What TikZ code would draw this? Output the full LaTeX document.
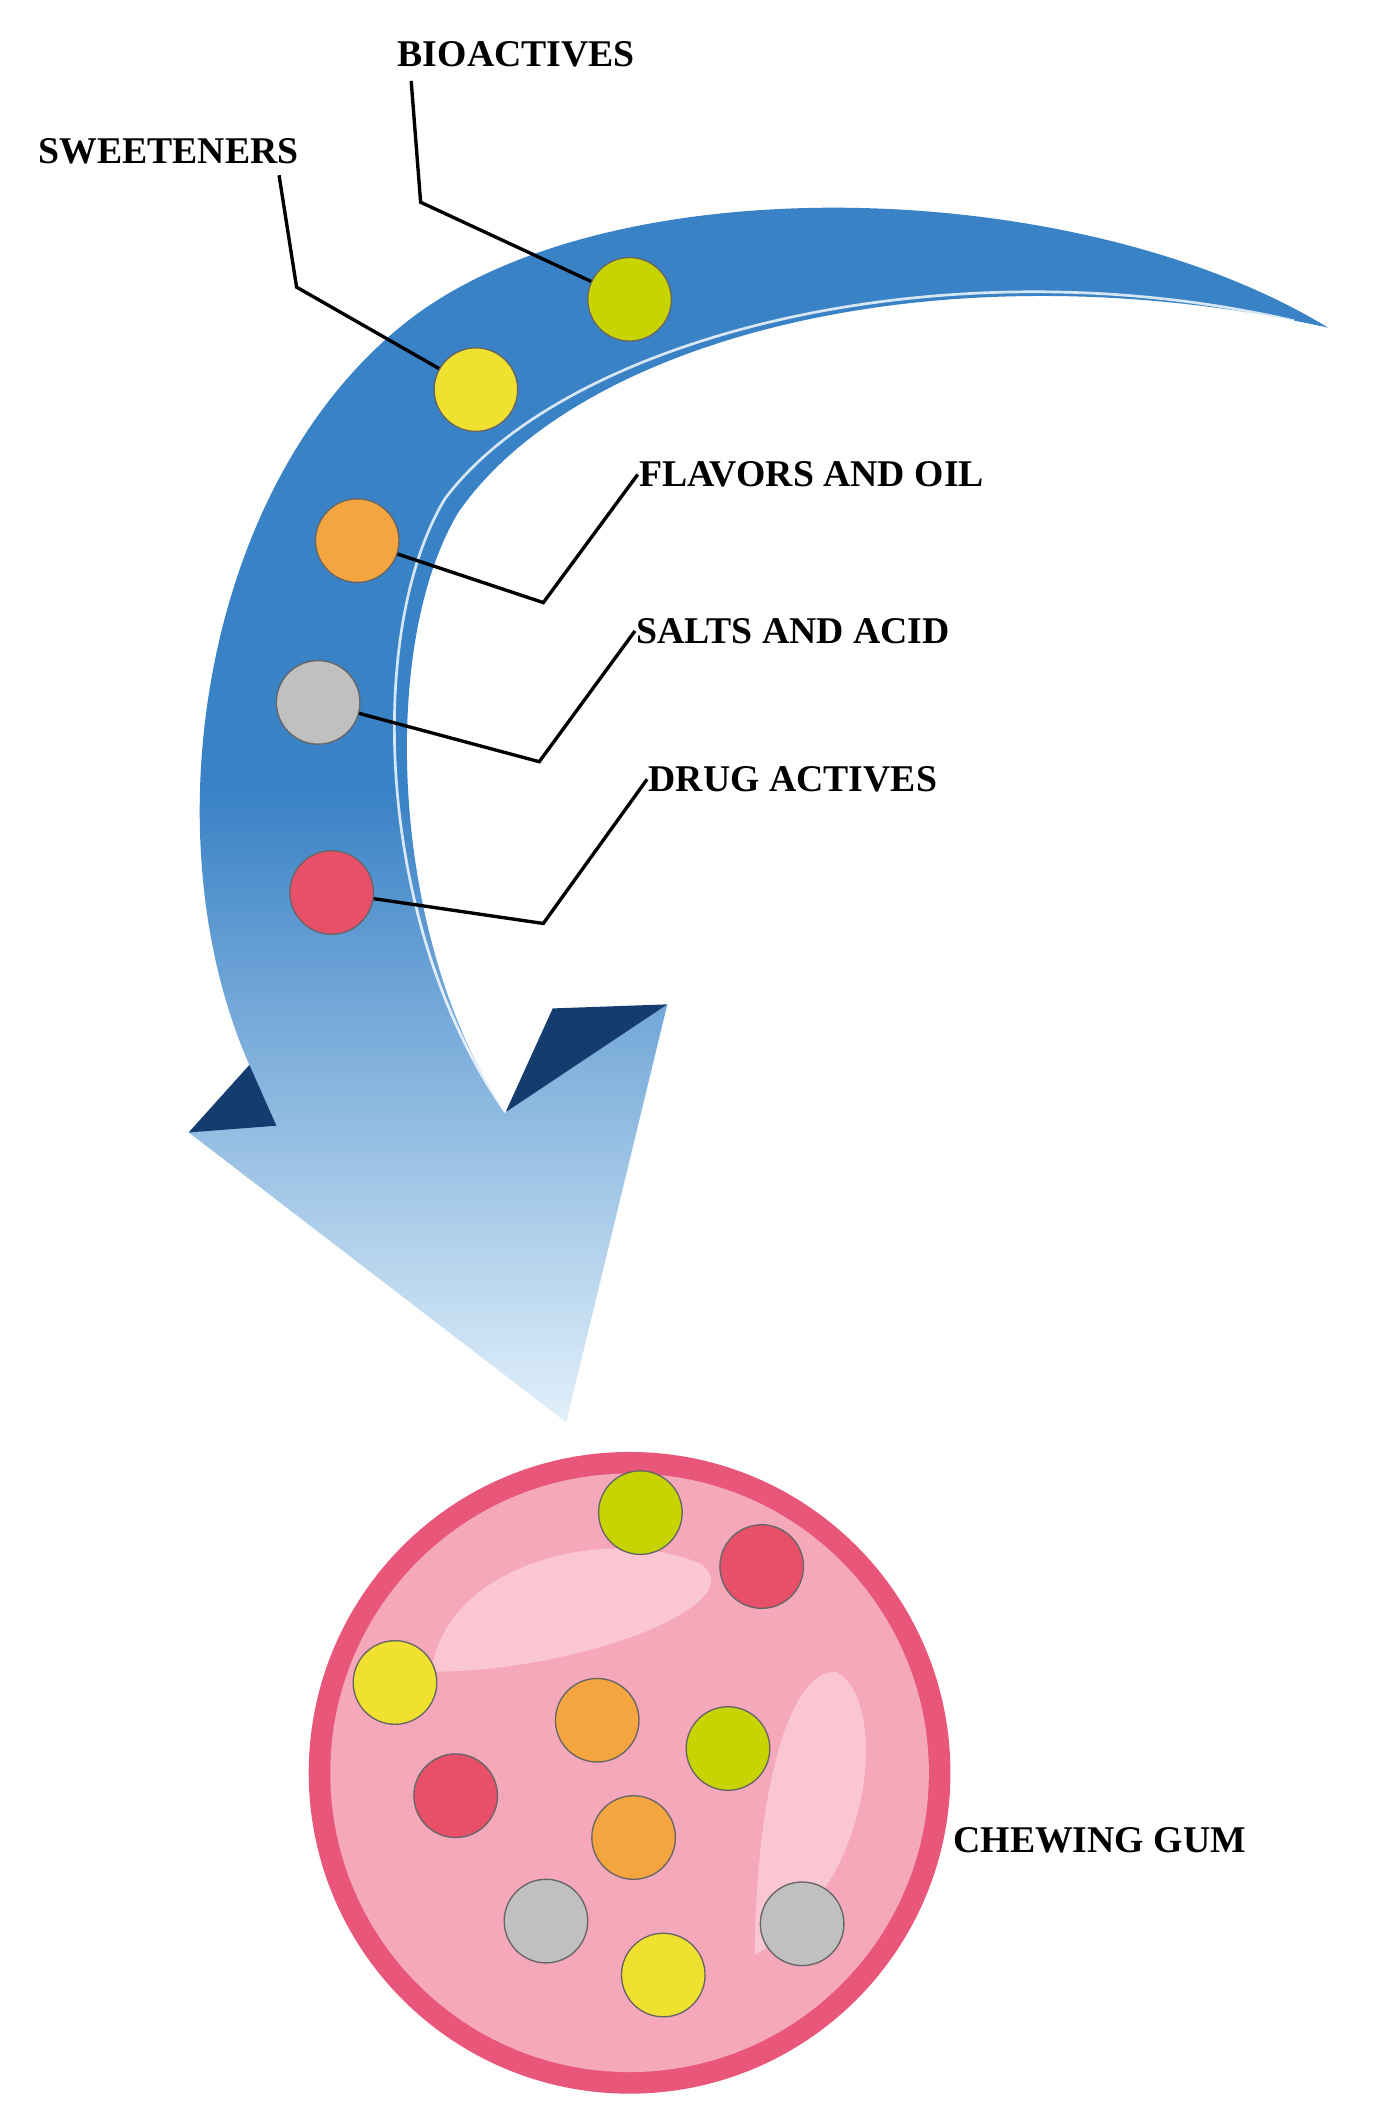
\documentclass[tikz,border=0pt]{standalone}
\usepackage{fontspec}
\setmainfont{Liberation Serif}
\definecolor{clime}{RGB}{200,212,0}
\definecolor{cyel}{RGB}{240,224,48}
\definecolor{cora}{RGB}{245,165,64}
\definecolor{cgray}{RGB}{192,192,192}
\definecolor{cpink}{RGB}{232,80,106}
\definecolor{gring}{RGB}{232,87,122}
\definecolor{gfill}{RGB}{246,168,187}
\definecolor{ablue}{RGB}{58,130,198}
\definecolor{adark}{RGB}{20,60,110}
\definecolor{alight}{RGB}{225,240,250}
\begin{document}
\begin{tikzpicture}[x=1pt,y=-1pt,
  dot/.style={circle,minimum size=62pt,inner sep=0pt,draw=black!60,line width=1pt},
  lbl/.style={font=\fontsize{28}{32}\selectfont\bfseries,inner sep=1pt},
  lead/.style={line width=2.5pt,black}]
\useasboundingbox (0,0) rectangle (1024,1577);
\fill[white] (0,0) rectangle (1024,1577);
% arrow
\shade[top color=ablue, bottom color=alight, middle color=ablue]
 (985,243) .. controls (800,130) and (450,120) .. (300,240)
 .. controls (150,360) and (110,620) .. (185,790) -- (140,840) -- (420,1055) -- (495,745) -- (375,825)
 .. controls (290,700) and (280,480) .. (340,380)
 .. controls (430,250) and (700,180) .. (985,243) -- cycle;
\fill[adark] (375,825) -- (495,745) -- (410,748) -- cycle;
\fill[adark] (185,790) -- (140,840) -- (205,835) -- cycle;
\draw[white,line width=2pt,opacity=0.8] (960,238) .. controls (700,178) and (420,250) .. (330,370) .. controls (270,470) and (280,690) .. (375,825);
% dots on arrow
\node[dot,fill=clime] (bio) at (467,222) {};
\node[dot,fill=cyel] (swe) at (353,289) {};
\node[dot,fill=cora] (fla) at (265,401) {};
\node[dot,fill=cgray] (sal) at (236,521) {};
\node[dot,fill=cpink] (dru) at (246,662) {};
% labels
\node[lbl] (lbio) at (383,40) {BIOACTIVES};
\node[lbl] (lswe) at (125,112) {SWEETENERS};
\node[lbl,anchor=west] (lfla) at (473,352) {FLAVORS AND OIL};
\node[lbl,anchor=west] (lsal) at (471,468) {SALTS AND ACID};
\node[lbl,anchor=west] (ldru) at (480,578) {DRUG ACTIVES};
\node[lbl,anchor=west] (lgum) at (706,1365) {CHEWING GUM};
% leaders
\coordinate (b1) at (312,150); \coordinate (s1) at (220,213);
\coordinate (f1) at (403,447); \coordinate (a1) at (400,565); \coordinate (d1) at (403,685);
\draw[lead] (bio) -- (b1) -- (305,60);
\draw[lead] (swe) -- (s1) -- (207,130);
\draw[lead] (fla) -- (f1) -- (lfla.west);
\draw[lead] (sal) -- (a1) -- (lsal.west);
\draw[lead] (dru) -- (d1) -- (ldru.west);
% gum
\fill[gring] (467,1315) circle (238);
\fill[gfill] (467,1315) circle (222);
\fill[white,opacity=0.35] (320,1240) .. controls (330,1160) and (450,1130) .. (520,1160) .. controls (560,1190) and (430,1240) .. (320,1240);
\fill[white,opacity=0.35] (560,1450) .. controls (560,1350) and (580,1240) .. (620,1240) .. controls (660,1260) and (650,1400) .. (560,1450);
\node[dot,fill=clime] (g1) at (475,1122) {};
\node[dot,fill=cpink] (g2) at (565,1162) {};
\node[dot,fill=cyel] (g3) at (293,1248) {};
\node[dot,fill=cora] (g4) at (443,1276) {};
\node[dot,fill=clime] (g5) at (540,1297) {};
\node[dot,fill=cpink] (g6) at (338,1332) {};
\node[dot,fill=cora] (g7) at (470,1363) {};
\node[dot,fill=cgray] (g8) at (405,1425) {};
\node[dot,fill=cgray] (g9) at (595,1427) {};
\node[dot,fill=cyel] (g10) at (492,1465) {};
\end{tikzpicture}
\end{document}
